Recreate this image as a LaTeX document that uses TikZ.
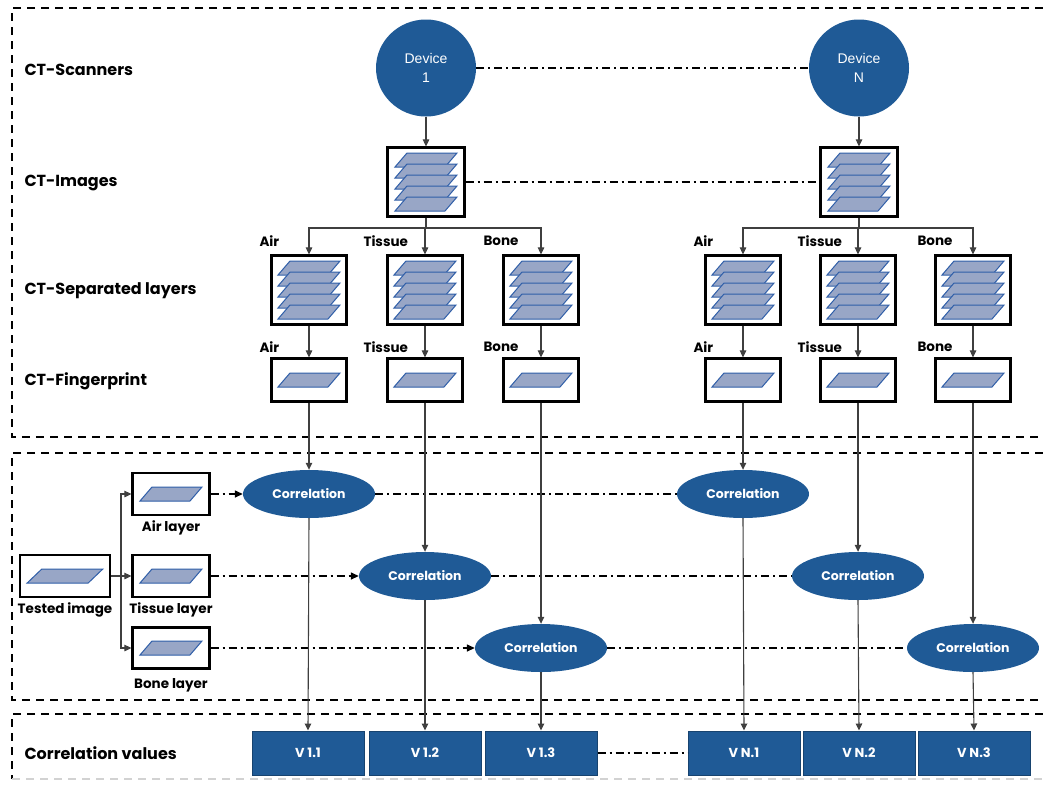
\documentclass[tikz,border=0pt]{standalone}
\usepackage{fontspec}
\setmainfont{Poppins}
\newfontfamily\arialfont{Liberation Sans}
\usetikzlibrary{arrows.meta,positioning,shapes.geometric}

\definecolor{ctblue}{HTML}{1F5A96}
\definecolor{ctdark}{HTML}{17436F}
\definecolor{platefill}{HTML}{98A6C6}
\definecolor{plateedge}{HTML}{2F5EA8}
\definecolor{linegray}{HTML}{3F3F3F}

\tikzset{
    plate/.pic={
        \draw[plateedge, fill=platefill, line width=1pt]
            (-31,7) -- (19,7) -- (31,-7) -- (-19,-7) -- cycle;
    },
    platestack/.pic={
        \foreach \dy in {-22,-11,0,11,22} {
            \path (0,\dy) pic {plate};
        }
    }
}

\begin{document}
\begin{tikzpicture}[
    x=1pt, y=-1pt,
    font=\bfseries\fontsize{13.5}{15}\selectfont,
    frame/.style={
        black,
        line width=1.5pt,
        dash pattern=on 8pt off 6pt
    },
    device/.style={
        ellipse,
        fill=ctblue,
        minimum width=100pt,
        minimum height=97pt,
        align=center,
        text=white,
        font=\arialfont\fontsize{14}{19}\selectfont
    },
    stackbox/.style={
        draw,
        fill=white,
        line width=2.2pt,
        minimum width=77pt,
        minimum height=69pt,
        inner sep=0pt
    },
    printbox/.style={
        draw,
        fill=white,
        line width=2.2pt,
        minimum width=75pt,
        minimum height=43pt,
        inner sep=0pt
    },
    corr/.style={
        ellipse,
        fill=ctblue,
        minimum width=132pt,
        minimum height=48pt,
        text=white,
        font=\bfseries\fontsize{12.5}{14}\selectfont
    },
    vbox/.style={
        draw=ctdark,
        fill=ctblue,
        line width=1pt,
        minimum width=112pt,
        minimum height=44pt,
        text=white,
        font=\bfseries\fontsize{13}{15}\selectfont
    },
    heading/.style={
        anchor=west,
        font=\bfseries\fontsize{16}{18}\selectfont
    },
    tag/.style={anchor=west},
    conn/.style={linegray, line width=1.1pt},
    arr/.style={conn, -{Triangle[length=7pt,width=6.5pt]}},
    dashdot/.style={
        black,
        line width=1.4pt,
        dash pattern=on 8pt off 4pt on 2pt off 4pt
    },
    dasharr/.style={dashdot, -{Triangle[length=8pt,width=7pt]}}
]
\useasboundingbox (0,0) rectangle (1043,785);

% frames
\draw[frame] (1043,8) -- (12,8) -- (12,437) -- (1043,437);
\draw[frame] (1043,453) -- (12,453) -- (12,700) -- (1043,700);
\draw[frame] (1043,714) -- (12,714) -- (12,779);
\draw[frame, gray!35] (12,779) -- (1043,779);

% headings
\node[heading] at (21,70) {CT-Scanners};
\node[heading] at (21,183) {CT-Images};
\node[heading] at (21,291) {CT-Separated layers};
\node[heading] at (21,381) {CT-Fingerprint};
\node[heading] at (21,753) {Correlation values};

% scanners
\node[device] (dev1) at (426,68) {Device\\1};
\node[device] (devN) at (859,68) {Device\\N};
\draw[dashdot] (dev1.east) -- (devN.west);

% images
\node[stackbox] (img1) at (426,182) {};
\pic at (img1) {platestack};
\node[stackbox] (imgN) at (859,182) {};
\pic at (imgN) {platestack};
\draw[dashdot] (img1.east) -- (imgN.west);

\draw[arr] (dev1.south) -- (img1.north);
\draw[arr] (devN.south) -- (imgN.north);

% separated layers
\node[stackbox, minimum width=75pt] (sep1a) at (309,290) {};
\node[stackbox, minimum width=75pt] (sep1t) at (425,290) {};
\node[stackbox, minimum width=75pt] (sep1b) at (541,290) {};
\node[stackbox, minimum width=75pt] (sepNa) at (743,290) {};
\node[stackbox, minimum width=75pt] (sepNt) at (858,290) {};
\node[stackbox, minimum width=75pt] (sepNb) at (973,290) {};
\foreach \n in {sep1a,sep1t,sep1b,sepNa,sepNt,sepNb}
    \pic at (\n) {platestack};

\coordinate (split1) at (426,228);
\coordinate (splitN) at (859,228);
\draw[conn] (img1.south) -- (split1);
\draw[conn] (imgN.south) -- (splitN);
\draw[arr] (split1) -| (sep1a.north);
\draw[arr] (split1) -| (sep1t.north);
\draw[arr] (split1) -| (sep1b.north);
\draw[arr] (splitN) -| (sepNa.north);
\draw[arr] (splitN) -| (sepNt.north);
\draw[arr] (splitN) -| (sepNb.north);

\node[tag] at (256,241) {Air};
\node[tag] at (360,241) {Tissue};
\node[tag] at (480,241) {Bone};
\node[tag] at (690,241) {Air};
\node[tag] at (794,241) {Tissue};
\node[tag] at (914,241) {Bone};

% fingerprints
\node[printbox] (fp1a) at (309,380) {};
\node[printbox] (fp1t) at (425,380) {};
\node[printbox] (fp1b) at (541,380) {};
\node[printbox] (fpNa) at (743,380) {};
\node[printbox] (fpNt) at (858,380) {};
\node[printbox] (fpNb) at (973,380) {};
\foreach \n in {fp1a,fp1t,fp1b,fpNa,fpNt,fpNb}
    \pic at (\n) {plate};

\draw[arr] (sep1a.south) -- (fp1a.north);
\draw[arr] (sep1t.south) -- (fp1t.north);
\draw[arr] (sep1b.south) -- (fp1b.north);
\draw[arr] (sepNa.south) -- (fpNa.north);
\draw[arr] (sepNt.south) -- (fpNt.north);
\draw[arr] (sepNb.south) -- (fpNb.north);

\node[tag] at (256,347) {Air};
\node[tag] at (360,347) {Tissue};
\node[tag] at (480,347) {Bone};
\node[tag] at (690,347) {Air};
\node[tag] at (794,347) {Tissue};
\node[tag] at (914,347) {Bone};

% tested image
\node[printbox, minimum width=90pt, minimum height=42pt] (test) at (65,576) {};
\pic[xscale=1.22] at (test) {plate};
\node[below=1pt of test] {Tested image};

\node[printbox, minimum width=77pt, minimum height=42pt] (layA) at (171,494) {};
\node[printbox, minimum width=77pt, minimum height=42pt] (layT) at (171,576) {};
\node[printbox, minimum width=77pt, minimum height=41pt] (layB) at (171,648) {};
\foreach \n in {layA,layT,layB}
    \pic at (\n) {plate};
\node[below=1pt of layA] {Air layer};
\node[below=1pt of layT] {Tissue layer};
\node[below=5pt of layB] {Bone layer};

\coordinate (split2) at (121,576);
\draw[conn] (test.east) -- (split2);
\draw[arr] (split2) |- (layA.west);
\draw[arr] (split2) -- (layT.west);
\draw[arr] (split2) |- (layB.west);

% correlations
\node[corr] (c1a) at (309,494) {Correlation};
\node[corr] (c1t) at (425,576) {Correlation};
\node[corr] (c1b) at (541,648) {Correlation};
\node[corr] (cNa) at (743,494) {Correlation};
\node[corr] (cNt) at (858,576) {Correlation};
\node[corr] (cNb) at (973,648) {Correlation};

\draw[dasharr] (layA.east) -- (c1a.west);
\draw[dasharr] (layT.east) -- (c1t.west);
\draw[dasharr] (layB.east) -- (c1b.west);
\draw[dashdot] (c1a.east) -- (cNa.west);
\draw[dashdot] (c1t.east) -- (cNt.west);
\draw[dashdot] (c1b.east) -- (cNb.west);

\draw[arr] (fp1a.south) -- (c1a.north);
\draw[arr] (fp1t.south) -- (c1t.north);
\draw[arr] (fp1b.south) -- (c1b.north);
\draw[arr] (fpNa.south) -- (cNa.north);
\draw[arr] (fpNt.south) -- (cNt.north);
\draw[arr] (fpNb.south) -- (cNb.north);

% correlation values
\node[vbox] (v1a) at (308,753) {V 1.1};
\node[vbox] (v1t) at (425,753) {V 1.2};
\node[vbox] (v1b) at (541,753) {V 1.3};
\node[vbox] (vNa) at (744,753) {V N.1};
\node[vbox] (vNt) at (859,753) {V N.2};
\node[vbox] (vNb) at (974,753) {V N.3};
\draw[dashdot] (v1b.east) -- (vNa.west);

\draw[arr] (c1a.south) -- (v1a.north);
\draw[arr] (c1t.south) -- (v1t.north);
\draw[arr] (c1b.south) -- (v1b.north);
\draw[arr] (cNa.south) -- (vNa.north);
\draw[arr] (cNt.south) -- (vNt.north);
\draw[arr] (cNb.south) -- (vNb.north);

\end{tikzpicture}
\end{document}
